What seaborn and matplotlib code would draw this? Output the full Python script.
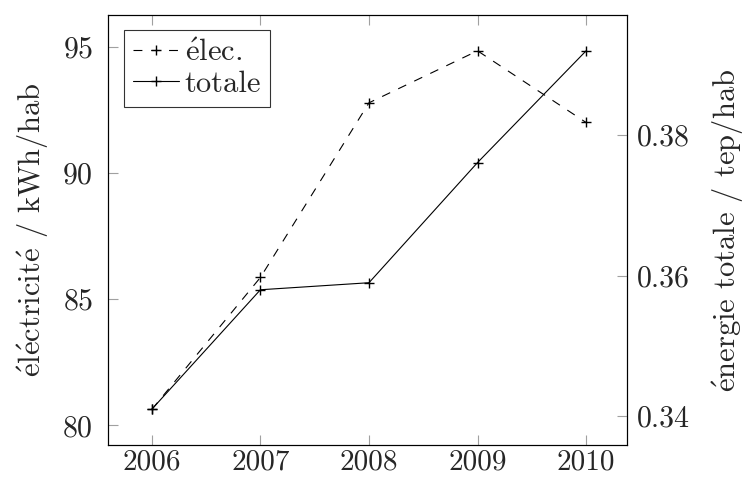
import matplotlib
matplotlib.use("Agg")
import matplotlib.pyplot as plt
import seaborn as sns

years = [2006, 2007, 2008, 2009, 2010]
elec = [80.63, 85.86, 92.78, 94.84, 92.0]
totale = [0.3410, 0.3580, 0.3590, 0.3761, 0.3920]

sns.set_style("ticks")
plt.rcParams["font.family"] = ["cmr10", "DejaVu Serif"]
plt.rcParams["mathtext.fontset"] = "cm"
plt.rcParams["axes.formatter.use_mathtext"] = True

fig = plt.figure(figsize=(7.45, 4.79), dpi=100)
ax = fig.add_axes([0.1454, 0.0710, 0.6958, 0.8977])
ax2 = ax.twinx()

style = dict(color="black", linewidth=0.8, marker="+", markersize=7.5,
             markeredgewidth=1.0, markeredgecolor="black", legend=False)
sns.lineplot(x=years, y=elec, ax=ax, linestyle=(0, (8, 8)), **style)
sns.lineplot(x=years, y=totale, ax=ax2, **style)

ax.set_xlim(2005.599, 2010.374)
ax.set_ylim(79.22, 96.26)
ax2.set_ylim(0.33591, 0.3971)
ax.set_xticks(years)
ax.set_xticklabels([str(y) for y in years])
ax.set_yticks([80, 85, 90, 95])
ax2.set_yticks([0.34, 0.36, 0.38])
ax2.set_yticklabels(["0.34", "0.36", "0.38"])

for a in (ax, ax2):
    for s in a.spines.values():
        s.set_color("black")
        s.set_linewidth(0.8)
    a.tick_params(direction="in", length=7, width=0.8, color="#a0a0a0",
                  labelsize=21.5)
ax.tick_params(axis="x", top=True, bottom=True, pad=3, labelsize=21)
ax.tick_params(axis="y", left=True, right=False, pad=11)
ax2.tick_params(axis="y", left=False, right=True, pad=7)

ax.set_ylabel(r"$\mathrm{\acute{e}l\acute{e}ctricit\acute{e}}$ / kWh/hab",
              fontsize=22, labelpad=8)
ax2.set_ylabel(r"$\mathrm{\acute{e}nergie}$ totale / tep/hab",
               fontsize=22, labelpad=15)
ax.set_xlabel("")

handles = [ax.get_lines()[0], ax2.get_lines()[0]]
labels = [r"$\mathrm{\acute{e}lec.}$", "totale"]
leg = ax2.legend(handles, labels, loc="upper left", fontsize=22,
                 frameon=True, fancybox=False, edgecolor="black",
                 handlelength=1.5, handletextpad=0.2, borderpad=0.3,
                 labelspacing=0.1, borderaxespad=0.5)
leg.get_frame().set_linewidth(0.8)

fig.savefig("out.png", dpi=100)
